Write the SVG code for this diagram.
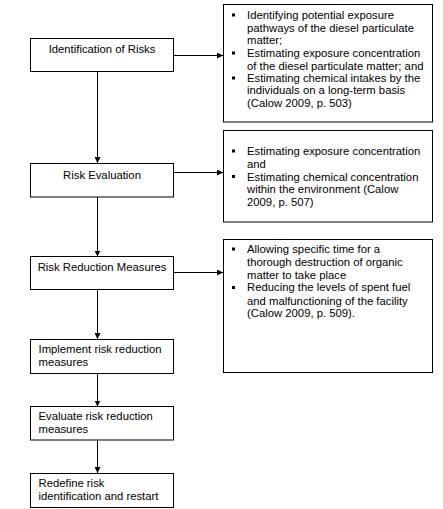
<svg xmlns="http://www.w3.org/2000/svg" width="443" height="509" viewBox="0 0 443 509">
<defs>
<style>
.box{fill:#fff;stroke:#000;stroke-width:1}
.t{font-family:"Liberation Sans",Arial,sans-serif;font-size:11.3px;fill:#000}
.c{text-anchor:middle}
.ln{stroke:#000;stroke-width:1;fill:none}
.b{fill:#000}
</style>
<marker id="ah" viewBox="0 0 6 6" refX="6" refY="3" markerWidth="6" markerHeight="6" markerUnits="userSpaceOnUse" orient="auto">
<path d="M0,0 L6,3 L0,6 z" fill="#000"/>
</marker>
</defs>
<rect width="443" height="509" fill="#fff"/>
<g id="connectors">
<line class="ln" x1="97.5" y1="71" x2="97.5" y2="163" marker-end="url(#ah)"/>
<line class="ln" x1="97.5" y1="197" x2="97.5" y2="256.5" marker-end="url(#ah)"/>
<line class="ln" x1="97.5" y1="289.5" x2="97.5" y2="339" marker-end="url(#ah)"/>
<line class="ln" x1="97.5" y1="373.5" x2="97.5" y2="406.5" marker-end="url(#ah)"/>
<line class="ln" x1="97.5" y1="440" x2="97.5" y2="473" marker-end="url(#ah)"/>
<line class="ln" x1="173.5" y1="55.5" x2="223" y2="55.5" marker-end="url(#ah)"/>
<line class="ln" x1="173.5" y1="172.5" x2="223" y2="172.5" marker-end="url(#ah)"/>
<line class="ln" x1="173.5" y1="272.5" x2="223" y2="272.5" marker-end="url(#ah)"/>
</g>
<g id="n1">
<rect class="box" x="30.5" y="38.5" width="143" height="33"/>
<text class="t c" x="102" y="53">Identification of Risks</text>
</g>
<g id="n2">
<rect class="box" x="30.5" y="163.5" width="143" height="33.5"/>
<text class="t c" x="102" y="179">Risk Evaluation</text>
</g>
<g id="n3">
<rect class="box" x="30.5" y="256.5" width="143" height="33"/>
<text class="t c" x="102" y="270.5">Risk Reduction Measures</text>
</g>
<g id="n4">
<rect class="box" x="30.5" y="339.5" width="143" height="34"/>
<text class="t" x="38.5" y="353">Implement risk reduction</text>
<text class="t" x="38.5" y="366">measures</text>
</g>
<g id="n5">
<rect class="box" x="30.5" y="406.5" width="143" height="33.5"/>
<text class="t" x="38.5" y="420">Evaluate risk reduction</text>
<text class="t" x="38.5" y="433">measures</text>
</g>
<g id="n6">
<rect class="box" x="30.5" y="473.5" width="143" height="34"/>
<text class="t" x="38.5" y="487">Redefine risk</text>
<text class="t" x="38.5" y="499.5">identification and restart</text>
</g>
<g id="r1">
<rect class="box" x="223.5" y="4.5" width="209" height="117.5"/>
<rect class="b" x="232" y="13.5" width="3" height="3"/>
<rect class="b" x="232" y="51.5" width="3" height="3"/>
<rect class="b" x="232" y="76.5" width="3" height="3"/>
<text class="t" x="247" y="19">Identifying potential exposure</text>
<text class="t" x="247" y="31.7">pathways of the diesel particulate</text>
<text class="t" x="247" y="44.3">matter;</text>
<text class="t" x="247" y="57">Estimating exposure concentration</text>
<text class="t" x="247" y="69.7">of the diesel particulate matter; and</text>
<text class="t" x="247" y="82">Estimating chemical intakes by the</text>
<text class="t" x="247" y="94">individuals on a long-term basis</text>
<text class="t" x="247" y="107">(Calow 2009, p. 503)</text>
</g>
<g id="r2">
<rect class="box" x="223.5" y="130.5" width="209" height="91.5"/>
<rect class="b" x="232" y="149.5" width="3" height="3"/>
<rect class="b" x="232" y="175" width="3" height="3"/>
<text class="t" x="247" y="155">Estimating exposure concentration</text>
<text class="t" x="247" y="168">and</text>
<text class="t" x="247" y="180.7">Estimating chemical concentration</text>
<text class="t" x="247" y="193">within the environment (Calow</text>
<text class="t" x="247" y="206.3">2009, p. 507)</text>
</g>
<g id="r3">
<rect class="box" x="223.5" y="239.5" width="209" height="133"/>
<rect class="b" x="232" y="247.5" width="3" height="3"/>
<rect class="b" x="232" y="286" width="3" height="3"/>
<text class="t" x="247" y="253">Allowing specific time for a</text>
<text class="t" x="247" y="266.3">thorough destruction of  organic</text>
<text class="t" x="247" y="278.7">matter to take place</text>
<text class="t" x="247" y="291.3">Reducing the levels of spent fuel</text>
<text class="t" x="247" y="304.7">and malfunctioning of the facility</text>
<text class="t" x="247" y="317">(Calow 2009, p. 509).</text>
</g>
</svg>
